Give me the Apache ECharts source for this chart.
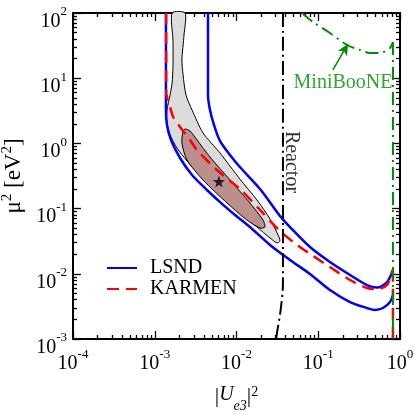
<!DOCTYPE html>
<html>
<head>
<meta charset="utf-8">
<script src="https://cdn.jsdelivr.net/npm/echarts@6/dist/echarts.min.js"></script>
<style>
  html, body { margin: 0; padding: 0; background: #fff; }
  #chart { width: 415px; height: 415px; }
</style>
</head>
<body>
<div id="chart"></div>
<script>
// axis ranges and ticks
const xDecades = [1e-4, 1e-3, 1e-2, 1e-1, 1];
const yDecades = [1e-3, 1e-2, 1e-1, 1, 10, 100];

// LSND allowed band (two boundary curves)
const lsndLower = [[1.37e-3, 100], [1.37e-3, 3.25], [1.41e-3, 1.91], [1.58e-3, 1.13], [2.04e-3, 0.597],
  [2.86e-3, 0.327], [4.35e-3, 0.193], [6.65e-3, 0.118], [9.6e-3, 0.0798], [0.0146, 0.0522],
  [0.0257, 0.0277], [0.0451, 0.0163], [0.0792, 0.00993], [0.139, 0.00565], [0.245, 0.00369],
  [0.394, 0.00299], [0.494, 0.00279], [0.619, 0.00299], [0.755, 0.00369], [0.82, 0.00473]];
const lsndUpper = [[4.48e-3, 100], [4.48e-3, 5.52], [4.74e-3, 3.25], [5.31e-3, 1.91], [6.28e-3, 1.09],
  [8.32e-3, 0.664], [0.011, 0.435], [0.0194, 0.2], [0.034, 0.0771], [0.0451, 0.0522],
  [0.0792, 0.0258], [0.139, 0.0152], [0.245, 0.0096], [0.394, 0.00673], [0.524, 0.00617],
  [0.694, 0.00748], [0.798, 0.0103], [0.82, 0.0114]];

// KARMEN exclusion curve
const karmen = [[1.38e-3, 100], [1.38e-3, 5.93], [1.45e-3, 4.63], [1.54e-3, 3.62], [1.68e-3, 2.54],
  [2.04e-3, 1.79], [2.7e-3, 1.13], [3.29e-3, 0.792], [5.77e-3, 0.391], [0.011, 0.2],
  [0.0194, 0.0953], [0.034, 0.0453], [0.0598, 0.0258], [0.139, 0.0127], [0.245, 0.00804],
  [0.394, 0.00605], [0.524, 0.00585], [0.694, 0.00673], [0.798, 0.0107], [0.82, 0.0115]];
const karmenEdge = [[0.82, 0.0115], [0.82, 0.001]];

// reactor limit
const reactor = [[0.037, 100], [0.037, 0.0072], [0.0347, 0.0028], [0.0313, 0.00124], [0.0306, 0.001]];

// MiniBooNE sensitivity
const miniboone = [[0.0632, 100], [0.0863, 72.8], [0.139, 49.3], [0.225, 32.3], [0.324, 27.1],
  [0.43, 24.4], [0.569, 24.4], [0.755, 29.0], [0.82, 35.9]];
const minibooneEdge = [[0.82, 35.9], [0.82, 0.001]];

// fit regions (90% grey, 68% dark) and best fit point
const region90 = [[1.63e-3, 100], [1.67e-3, 38.5], [1.67e-3, 14.9], [1.63e-3, 8.44], [1.54e-3, 5.52],
  [1.41e-3, 3.25], [1.41e-3, 2.06], [1.54e-3, 1.35], [1.87e-3, 0.849], [2.48e-3, 0.537],
  [3.57e-3, 0.327], [6.28e-3, 0.162], [0.011, 0.0857], [0.0178, 0.0522], [0.0257, 0.0354],
  [0.0313, 0.0297], [0.034, 0.0318], [0.0331, 0.0366], [0.0257, 0.0692], [0.0178, 0.1355],
  [0.011, 0.284], [6.28e-3, 0.713], [3.89e-3, 1.45], [2.86e-3, 3.25], [2.41e-3, 5.52],
  [2.22e-3, 11.2], [2.15e-3, 19.0], [2.28e-3, 46.0], [2.35e-3, 100]];
const region68 = [[2.35e-3, 1.66], [2.22e-3, 1.55], [2.15e-3, 1.01], [2.48e-3, 0.556], [3.89e-3, 0.275],
  [7.65e-3, 0.122], [0.0134, 0.0668], [0.0194, 0.0504], [0.0223, 0.0522], [0.0211, 0.0668],
  [0.0146, 0.122], [8.32e-3, 0.275], [4.74e-3, 0.618], [3.29e-3, 1.13], [2.7e-3, 1.55]];
const bestFit = [[6.1e-3, 0.26]];

// annotations
const reactorLabelAt = [0.0465, 0.519];
const minibooneLabelAt = [0.201, 8.44];
const minibooneArrow = [[0.151, 13.4], [0.231, 33.5]];

const font = "'Liberation Serif', 'Times New Roman', serif";
const green = '#008b00';

function minorTicks(decades) {
  const out = [];
  for (let i = 0; i < decades.length - 1; i++) {
    for (let k = 2; k <= 9; k++) out.push(k * decades[i]);
  }
  return out;
}

const powRich = {
  b: { fontSize: 20, fontFamily: font, color: '#000', lineHeight: 26, verticalAlign: 'bottom' },
  s: { fontSize: 13, fontFamily: font, color: '#000', lineHeight: 11, verticalAlign: 'top' }
};
const powLabel = v => '{b|10}{s|' + Math.round(Math.log10(v)) + '}';

function makeAxis(kind, position, major, vals, withLabel) {
  const ax = {
    type: 'log', logBase: 10, position,
    min: vals[0], max: vals[vals.length - 1],
    splitLine: { show: false },
    axisLine: { show: major, lineStyle: { color: '#000', width: 2 } },
    axisTick: {
      show: true, inside: true, length: major ? 8 : 4,
      customValues: major ? vals : minorTicks(vals),
      lineStyle: { color: '#000', width: 1.3 }
    },
    axisLabel: { show: false }
  };
  if (withLabel) {
    ax.axisLabel = {
      show: true, customValues: vals, formatter: powLabel, rich: powRich,
      fontFamily: font,
      margin: kind === 'x' ? 9 : 6,
      padding: kind === 'x' ? 0 : [11, 0, 0, 0]
    };
  }
  return ax;
}

const xAxes = [
  makeAxis('x', 'bottom', true, xDecades, true),
  makeAxis('x', 'bottom', false, xDecades, false),
  makeAxis('x', 'top', true, xDecades, false),
  makeAxis('x', 'top', false, xDecades, false)
];
xAxes[0].name = '{bar||}{i|U}{sub|e3}{bar||}{s|2}';
xAxes[0].nameLocation = 'middle';
xAxes[0].nameGap = 46;
xAxes[0].nameTextStyle = {
  fontFamily: font,
  rich: {
    bar: { fontSize: 22, fontFamily: font, color: '#000', lineHeight: 28, verticalAlign: 'top' },
    i: { fontSize: 20, fontFamily: font, fontStyle: 'italic', color: '#000', lineHeight: 24, verticalAlign: 'top' },
    sub: { fontSize: 14, fontFamily: font, fontStyle: 'italic', color: '#000', lineHeight: 14, verticalAlign: 'bottom' },
    s: { fontSize: 14, fontFamily: font, color: '#000', lineHeight: 12, verticalAlign: 'top' }
  }
};

const yAxes = [
  makeAxis('y', 'left', true, yDecades, true),
  makeAxis('y', 'left', false, yDecades, false),
  makeAxis('y', 'right', true, yDecades, false),
  makeAxis('y', 'right', false, yDecades, false)
];
yAxes[0].name = '{t|\u03BC}{s|2}{t| [eV}{s|2}{t|]}';
yAxes[0].nameLocation = 'middle';
yAxes[0].nameGap = 46;
yAxes[0].nameTextStyle = {
  fontFamily: font,
  rich: {
    t: { fontSize: 23, fontFamily: font, color: '#000', lineHeight: 26, verticalAlign: 'bottom' },
    s: { fontSize: 15, fontFamily: font, color: '#000', lineHeight: 13, verticalAlign: 'top' }
  }
};

function region(name, pts, fill, z) {
  return {
    name, type: 'custom', z, silent: true, data: pts,
    renderItem(params, api) {
      if (params.dataIndex !== 0) return null;
      return {
        type: 'polygon',
        shape: { points: pts.map(p => api.coord(p)), smooth: 0.25 },
        style: { fill, stroke: '#000', lineWidth: 1 }
      };
    }
  };
}

function curve(name, pts, color, width, dash, z, smooth) {
  return {
    name, type: 'line', data: pts, z, smooth, symbol: 'none', silent: true,
    itemStyle: { color },
    lineStyle: { color, width, type: dash }
  };
}

function textMark(pos, text, color, rotate) {
  return {
    type: 'scatter', data: [pos], symbolSize: 0, silent: true, z: 6,
    label: {
      show: true, position: 'inside', formatter: text, rotate,
      fontSize: 20, fontFamily: font, color
    }
  };
}

const chart = echarts.init(document.getElementById('chart'), null, { renderer: 'canvas' });
chart.setOption({
  animation: false,
  backgroundColor: '#fff',
  grid: { left: 73, right: 15, top: 13, bottom: 76, containLabel: false, outerBoundsMode: 'none' },
  xAxis: xAxes,
  yAxis: yAxes,
  legend: {
    data: ['LSND', 'KARMEN'], orient: 'vertical', left: 106, top: 258, padding: 0,
    itemWidth: 30, itemHeight: 14, itemGap: 1,
    itemStyle: { opacity: 0 },
    lineStyle: { opacity: 1 },
    textStyle: { fontSize: 20, fontFamily: font, color: '#000', lineHeight: 20, padding: [0, 0, 0, 8] }
  },
  series: [
    region('90%', region90, '#dcdcdc', 1),
    region('68%', region68, '#bc8f8f', 2),
    curve('LSND', lsndLower, '#0000ff', 2.5, 'solid', 3, 0.3),
    curve('LSND', lsndUpper, '#0000ff', 2.5, 'solid', 3, 0.3),
    curve('KARMEN', karmen, '#ff0000', 2.5, [12, 7], 4, 0.3),
    curve('KARMEN', karmenEdge, '#ff0000', 2.5, [12, 7], 4, false),
    curve('Reactor', reactor, '#000', 2, [14, 4, 2, 4], 4, 0.3),
    Object.assign(curve('MiniBooNE', miniboone, green, 2, [13, 5, 2, 5], 4, 0.3), {
      markLine: {
        silent: true, symbol: ['none', 'arrow'], symbolSize: [8, 11],
        label: { show: false },
        lineStyle: { color: green, width: 1.5, type: 'solid' },
        data: [[{ coord: minibooneArrow[0] }, { coord: minibooneArrow[1] }]]
      }
    }),
    curve('MiniBooNE', minibooneEdge, green, 2, [13, 5, 2, 5], 4, false),
    {
      name: 'best fit', type: 'scatter', data: bestFit, z: 5, silent: true,
      symbol: 'path://M0,-10L2.35,-3.24L9.51,-3.09L3.8,1.24L5.88,8.09L0,4L-5.88,8.09L-3.8,1.24L-9.51,-3.09L-2.35,-3.24Z',
      symbolSize: 12, itemStyle: { color: '#000' }
    },
    textMark(reactorLabelAt, 'Reactor', '#000', -90),
    textMark(minibooneLabelAt, 'MiniBooNE', green, 0)
  ]
});
</script>
</body>
</html>
